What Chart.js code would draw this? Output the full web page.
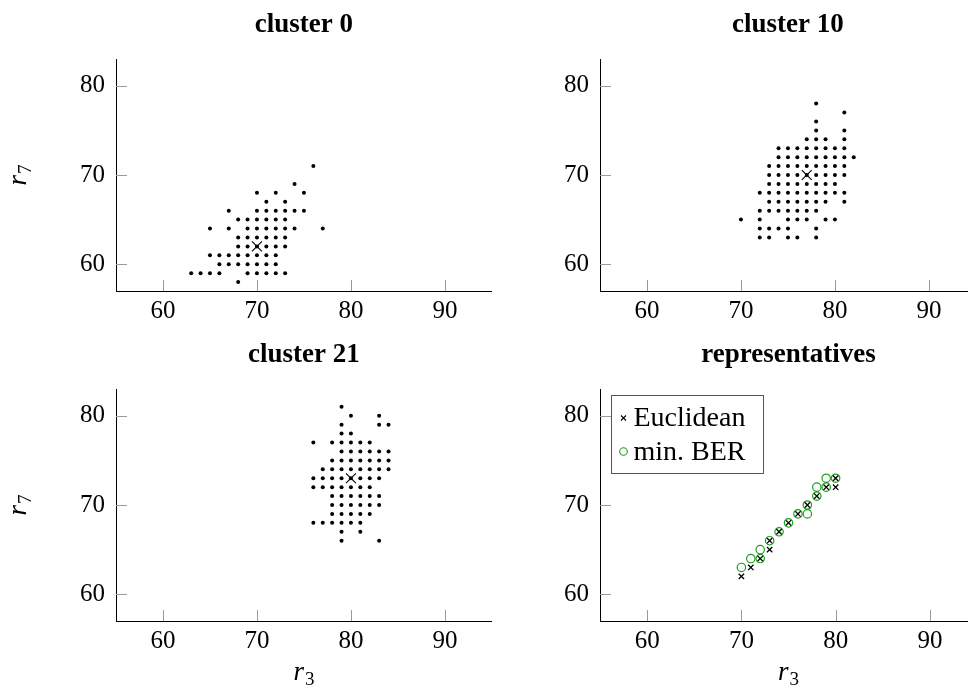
<!DOCTYPE html>
<html>
<head>
<meta charset="utf-8">
<script src="https://cdn.jsdelivr.net/npm/chart.js@4.4.1/dist/chart.umd.min.js"></script>
<style>
  html, body { margin: 0; padding: 0; background: #fff; }
  body { width: 968px; height: 687px; overflow: hidden; position: relative; }
  canvas { position: absolute; }
</style>
</head>
<body>
<canvas id="c0" width="500" height="330" style="left:0;top:0"></canvas>
<canvas id="c10" width="500" height="330" style="left:484px;top:0"></canvas>
<canvas id="c21" width="500" height="357" style="left:0;top:330px"></canvas>
<canvas id="crep" width="500" height="357" style="left:484px;top:330px"></canvas>
<script>
// axis ticks
const r3Ticks = [60, 70, 80, 90];
const r7Ticks = [60, 70, 80];

// cluster 0: one r7 row per entry, with the r3 values on that row
const cluster0R7 = [71, 69, 68, 67, 66, 65, 64, 63, 62, 61, 60, 59, 58];
const cluster0R3 = [
  [76], [74], [70, 72, 75], [71, 73], [67, 70, 71, 72, 73, 74, 75],
  [68, 69, 70, 71, 72, 73], [65, 67, 69, 70, 71, 72, 73, 74, 77],
  [68, 69, 70, 71, 72, 73], [68, 69, 70, 71, 72, 73],
  [65, 66, 67, 68, 69, 70, 71, 72], [66, 67, 68, 69, 70, 71, 72],
  [63, 64, 65, 66, 69, 70, 71, 72, 73], [68]
];
const cluster0Center = [70, 62];

// cluster 10
const cluster10R7 = [78, 77, 76, 75, 74, 73, 72, 71, 70, 69, 68, 67, 66, 65, 64, 63];
const cluster10R3 = [
  [78], [81], [78], [78, 81], [77, 78, 79, 81],
  [74, 75, 76, 77, 78, 79, 80, 81], [74, 75, 76, 77, 78, 79, 80, 81, 82],
  [73, 74, 75, 76, 77, 78, 79, 80, 81], [73, 74, 75, 76, 77, 78, 79, 80, 81],
  [73, 74, 75, 76, 77, 78, 79, 80], [72, 73, 74, 75, 76, 77, 78, 79, 80, 81],
  [73, 74, 75, 76, 77, 78, 79, 81], [72, 73, 74, 75, 76, 77, 78],
  [70, 72, 75, 76, 77, 79, 80], [72, 73, 74, 75, 78], [72, 73, 75, 76, 78]
];
const cluster10Center = [77, 70];

// cluster 21
const cluster21R7 = [81, 80, 79, 78, 77, 76, 75, 74, 73, 72, 71, 70, 69, 68, 67, 66];
const cluster21R3 = [
  [79], [80, 83], [79, 83, 84], [79, 80], [76, 78, 79, 80, 81, 82],
  [79, 80, 81, 82, 83, 84], [78, 79, 80, 81, 82, 83, 84],
  [77, 78, 79, 80, 81, 82, 83, 84], [76, 77, 78, 79, 80, 81, 82, 83],
  [76, 77, 78, 79, 80, 81, 82], [78, 79, 80, 81, 82, 83],
  [78, 79, 80, 81, 82, 83], [78, 79, 80, 81, 82], [76, 77, 78, 79, 80, 81],
  [79, 81], [79, 83]
];
const cluster21Center = [80, 73];

// representatives
const euclideanR3 = [70, 71, 72, 73, 73, 74, 75, 76, 77, 78, 79, 80, 80];
const euclideanR7 = [62, 63, 64, 65, 66, 67, 68, 69, 70, 71, 72, 73, 72];
const minBerR3 = [70, 71, 72, 72, 73, 74, 75, 76, 77, 77, 78, 78, 79, 79, 80];
const minBerR7 = [63, 64, 65, 64, 66, 67, 68, 69, 70, 69, 72, 71, 73, 72, 73];

const SERIF = '"Liberation Serif", "DejaVu Serif", serif';
const GREEN = '#1f9f1f';

function rowsToPoints(r7, r3) {
  const pts = [];
  r7.forEach((y, i) => r3[i].forEach(x => pts.push({ x: x, y: y })));
  return pts;
}
function pairs(xs, ys) {
  return xs.map((x, i) => ({ x: x, y: ys[i] }));
}

function drawSymbol(ctx, x, y, angle, letter, sub) {
  ctx.save();
  ctx.translate(x, y);
  ctx.rotate(angle);
  ctx.fillStyle = '#000';
  ctx.textAlign = 'left';
  ctx.textBaseline = 'alphabetic';
  ctx.font = 'italic 27px ' + SERIF;
  const w1 = ctx.measureText(letter).width;
  ctx.font = '19px ' + SERIF;
  const w2 = ctx.measureText(sub).width;
  const start = -(w1 + 1 + w2) / 2;
  ctx.font = 'italic 27px ' + SERIF;
  ctx.fillText(letter, start, 0);
  ctx.font = '19px ' + SERIF;
  ctx.fillText(sub, start + w1 + 1, 5);
  ctx.restore();
}

const decor = {
  id: 'decor',
  beforeDatasetsDraw(chart, args, opts) {
    const ctx = chart.ctx;
    const a = chart.chartArea;
    const xs = chart.scales.x, ys = chart.scales.y;
    ctx.save();
    ctx.strokeStyle = '#9a9a9a';
    ctx.lineWidth = 1;
    ctx.beginPath();
    r3Ticks.forEach(v => {
      const px = Math.round(xs.getPixelForValue(v)) + 0.5;
      ctx.moveTo(px, a.bottom);
      ctx.lineTo(px, a.bottom - 11);
    });
    r7Ticks.forEach(v => {
      const py = Math.round(ys.getPixelForValue(v)) + 0.5;
      ctx.moveTo(a.left, py);
      ctx.lineTo(a.left + 11, py);
    });
    ctx.stroke();
    ctx.restore();
  },
  afterDraw(chart, args, opts) {
    const ctx = chart.ctx;
    const a = chart.chartArea;
    const cx = (a.left + a.right) / 2;
    ctx.save();
    ctx.fillStyle = '#000';
    ctx.textAlign = 'center';
    ctx.textBaseline = 'alphabetic';
    ctx.font = 'bold 27px ' + SERIF;
    ctx.fillText(opts.title, cx, 32);
    ctx.restore();
    if (opts.yTitle) drawSymbol(ctx, 26, (a.top + a.bottom) / 2, -Math.PI / 2, 'r', '7');
    if (opts.xTitle) drawSymbol(ctx, cx, a.bottom + 59, 0, 'r', '3');
    if (opts.legend) {
      const ds = chart.data.datasets;
      ctx.save();
      ctx.font = '28px ' + SERIF;
      const tw = Math.max(...ds.map(d => ctx.measureText(d.label).width));
      const bx = a.left + 11.5, by = a.top + 6.5;
      const textX = bx + 22;
      const bw = textX - bx + tw + 18, bh = 78;
      ctx.fillStyle = '#fff';
      ctx.fillRect(bx, by, bw, bh);
      ctx.strokeStyle = '#555';
      ctx.lineWidth = 1;
      ctx.strokeRect(bx, by, bw, bh);
      ds.forEach((d, i) => {
        const my = by + 22.5 + i * 33.5;
        const mx = bx + 12;
        ctx.strokeStyle = d.borderColor;
        ctx.lineWidth = 1.1;
        ctx.beginPath();
        if (d.pointStyle === 'crossRot') {
          ctx.moveTo(mx - 2.5, my - 2.5); ctx.lineTo(mx + 2.5, my + 2.5);
          ctx.moveTo(mx - 2.5, my + 2.5); ctx.lineTo(mx + 2.5, my - 2.5);
        } else {
          ctx.arc(mx, my, 3.8, 0, Math.PI * 2);
        }
        ctx.stroke();
        ctx.fillStyle = '#000';
        ctx.textAlign = 'left';
        ctx.textBaseline = 'alphabetic';
        ctx.fillText(d.label, textX, my + 8);
      });
      ctx.restore();
    }
  }
};

function makeChart(id, datasets, deco) {
  const canvas = document.getElementById(id);
  const H = canvas.height;
  return new Chart(canvas, {
    type: 'scatter',
    data: { datasets: datasets },
    options: {
      responsive: false,
      animation: false,
      devicePixelRatio: 1,
      layout: { padding: { left: 0, top: 59, right: 7, bottom: 0 } },
      plugins: { legend: { display: false }, tooltip: { enabled: false }, decor: deco },
      scales: {
        x: {
          type: 'linear', min: 55, max: 95,
          afterBuildTicks: s => { s.ticks = r3Ticks.map(v => ({ value: v })); },
          afterFit: s => { s.height = H - 291; },
          grid: { display: false, drawTicks: false },
          border: { display: true, color: '#000', width: 1 },
          ticks: { color: '#000', padding: 5, maxRotation: 0, autoSkip: false, font: { family: SERIF, size: 25 } }
        },
        y: {
          type: 'linear', min: 57, max: 83,
          afterBuildTicks: s => { s.ticks = r7Ticks.map(v => ({ value: v })); },
          afterFit: s => { s.width = 116; },
          grid: { display: false, drawTicks: false },
          border: { display: true, color: '#000', width: 1 },
          ticks: { color: '#000', padding: 11, font: { family: SERIF, size: 25 } }
        }
      }
    },
    plugins: [decor]
  });
}

function clusterSets(r7, r3, center) {
  return [
    {
      label: 'center', data: [{ x: center[0], y: center[1] }],
      pointStyle: 'crossRot', pointRadius: 7, borderColor: '#000', borderWidth: 1.1,
      backgroundColor: 'transparent'
    },
    {
      label: 'members', data: rowsToPoints(r7, r3),
      pointStyle: 'circle', pointRadius: 2, borderWidth: 0,
      backgroundColor: '#000', borderColor: '#000'
    }
  ];
}

makeChart('c0', clusterSets(cluster0R7, cluster0R3, cluster0Center), { title: 'cluster 0', yTitle: true });
makeChart('c10', clusterSets(cluster10R7, cluster10R3, cluster10Center), { title: 'cluster 10' });
makeChart('c21', clusterSets(cluster21R7, cluster21R3, cluster21Center), { title: 'cluster 21', yTitle: true, xTitle: true });
makeChart('crep', [
  {
    label: 'Euclidean', data: pairs(euclideanR3, euclideanR7),
    pointStyle: 'crossRot', pointRadius: 3.8, borderColor: '#000', borderWidth: 1.3,
    backgroundColor: 'transparent'
  },
  {
    label: 'min. BER', data: pairs(minBerR3, minBerR7),
    pointStyle: 'circle', pointRadius: 4.2, borderColor: GREEN, borderWidth: 1.2,
    backgroundColor: 'transparent'
  }
], { title: 'representatives', xTitle: true, legend: true });
</script>
</body>
</html>
